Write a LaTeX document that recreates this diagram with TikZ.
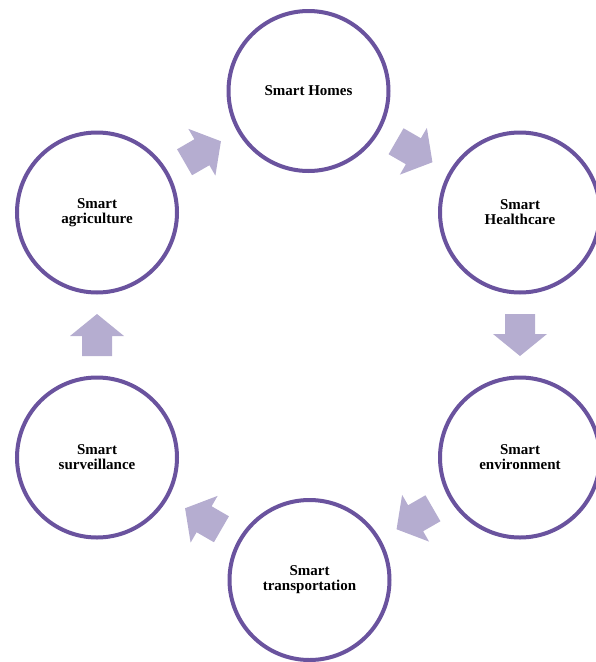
\documentclass[tikz,border=0pt]{standalone}
\usepackage{fontspec}
\setmainfont{Liberation Serif}
\usetikzlibrary{calc}
\definecolor{ringpurple}{RGB}{106,83,158}
\definecolor{arrowlilac}{RGB}{181,173,208}
\begin{document}
\begin{tikzpicture}[x=1pt,y=-1pt,
  stage/.style={circle, draw=ringpurple, line width=4pt, fill=white,
    minimum size=160pt, inner sep=0pt, align=center,
    font=\bfseries\fontsize{15}{15}\selectfont, text=black},
  cyclearrow/.pic={\fill[arrowlilac] (-21,-15) -- (-1,-15) -- (-1,-27) -- (21,0)
    -- (-1,27) -- (-1,15) -- (-21,15) -- cycle;}]
\useasboundingbox (0,0) rectangle (595,662);
\node[stage] (homes)  at (308.5,91)    {Smart Homes};
\node[stage] (health) at (520,212.5)   {Smart\\Healthcare};
\node[stage] (env)    at (520,457.5)   {Smart\\environment};
\node[stage] (trans)  at (309.5,580)   {Smart\\transportation};
\node[stage] (surv)   at (97,457.5)    {Smart\\surveillance};
\node[stage] (agri)   at (97,212.5)    {Smart\\agriculture};
\pic[rotate=30]   at ($(agri)!0.5!(homes)$)   {cyclearrow};
\pic[rotate=-30]  at ($(homes)!0.5!(health)$) {cyclearrow};
\pic[rotate=-90]  at ($(health)!0.5!(env)$)   {cyclearrow};
\pic[rotate=-150] at ($(env)!0.5!(trans)$)    {cyclearrow};
\pic[rotate=150]  at ($(trans)!0.5!(surv)$)   {cyclearrow};
\pic[rotate=90]   at ($(surv)!0.5!(agri)$)    {cyclearrow};
\end{tikzpicture}
\end{document}
